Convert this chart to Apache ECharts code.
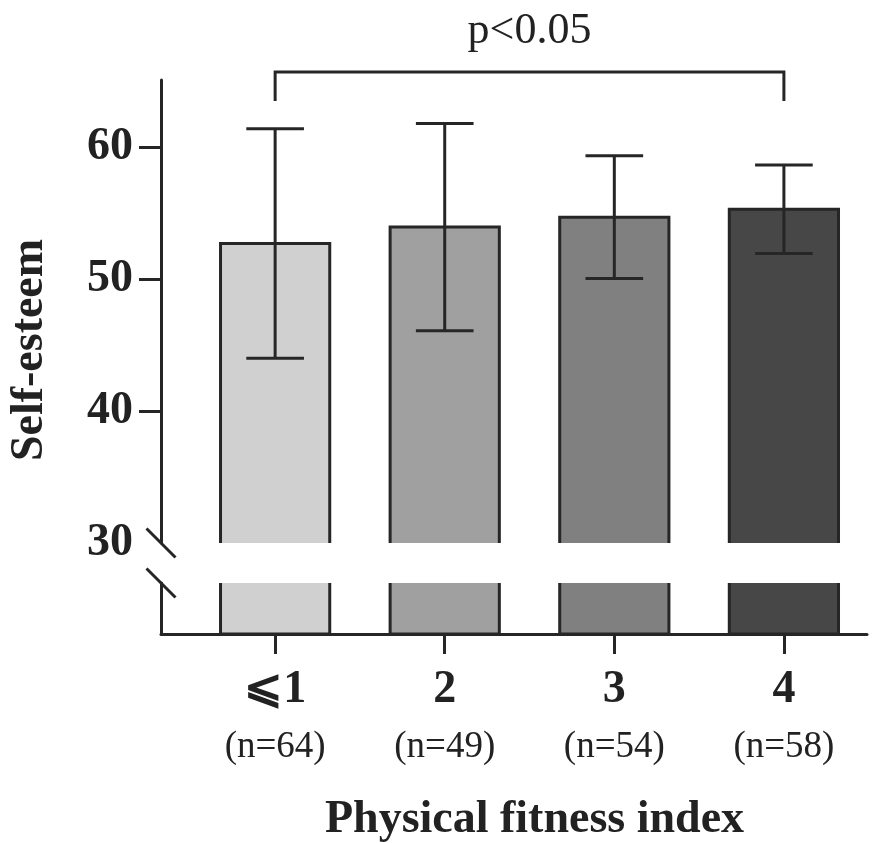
<!DOCTYPE html>
<html><head><meta charset="utf-8">
<script src="https://cdn.jsdelivr.net/npm/echarts@6/dist/echarts.min.js"></script>
<style>html,body{margin:0;padding:0;background:#fff}#c{width:885px;height:843px}</style>
</head><body><div id="c"></div>
<script>
// ---- data ----
const categories = ['⩽1', '2', '3', '4'];
const sampleSizes = [64, 49, 54, 58];
const means = [52.7, 53.95, 54.7, 55.3];
const sds = [8.7, 7.85, 4.65, 3.35];
const barColors = ['#d0d0d0', '#a0a0a0', '#808080', '#474747'];
const yTickLabels = [30, 40, 50, 60];
const yTickMarks = [40, 50, 60];
const sigLabel = 'p<0.05';
const sigPair = [0, 3];
const yAxisName = 'Self-esteem';
const xAxisName = 'Physical fitness index';

// ---- layout / style ----
const INK = '#262626';
const SERIF = '"Liberation Serif", "Times New Roman", serif';
const xMin = -0.673, xMax = 3.49;
const upperMin = 30, upperMax = 65.1;
const barHalf = 0.322, capHalf = 0.17;
const bracketTop = 65.7, bracketLeg = 63.5, sigTextY = 68.75;

const chart = echarts.init(document.getElementById('c'), null, {renderer: 'canvas'});

const idx = categories.map((c, i) => i);
const barData = idx.map(i => [i, means[i]]);
const errData = idx.map(i => [i, means[i], sds[i]]);

function barItem(params, api) {
  const i = api.value(0), v = api.value(1);
  const unit = api.size([1, 0])[0];
  const c = api.coord([i, v]);
  const b = api.coord([i, 0]);
  const hw = unit * barHalf;
  return {type: 'rect', shape: {x: c[0] - hw, y: c[1], width: 2 * hw, height: b[1] - c[1]},
    style: {fill: barColors[i], stroke: INK, lineWidth: 3}};
}
function errItem(params, api) {
  const i = api.value(0), m = api.value(1), s = api.value(2);
  const unit = api.size([1, 0])[0];
  const hi = api.coord([i, m + s]), lo = api.coord([i, m - s]);
  const cw = unit * capHalf;
  const st = {stroke: INK, lineWidth: 3, fill: null};
  return {type: 'group', children: [
    {type: 'line', shape: {x1: hi[0], y1: hi[1], x2: lo[0], y2: lo[1]}, style: st},
    {type: 'line', shape: {x1: hi[0] - cw, y1: hi[1], x2: hi[0] + cw, y2: hi[1]}, style: st},
    {type: 'line', shape: {x1: lo[0] - cw, y1: lo[1], x2: lo[0] + cw, y2: lo[1]}, style: st}
  ]};
}
function sigItem(params, api) {
  const a = api.value(0), b = api.value(1);
  const p1 = api.coord([a, bracketLeg]), p2 = api.coord([a, bracketTop]);
  const p3 = api.coord([b, bracketTop]), p4 = api.coord([b, bracketLeg]);
  const t = api.coord([(a + b) / 2, sigTextY]);
  return {type: 'group', children: [
    {type: 'polyline', shape: {points: [p1, p2, p3, p4]}, style: {stroke: INK, lineWidth: 3, fill: null}},
    {type: 'text', x: t[0], y: t[1], style: {text: sigLabel, fill: '#222', font: '44px ' + SERIF, align: 'center', verticalAlign: 'middle'}}
  ]};
}

const axisLineStyle = {color: INK, width: 3};
chart.setOption({
  animation: false,
  backgroundColor: '#fff',
  grid: [
    {left: 161, right: 18, top: 80, height: 463},
    {left: 161, right: 18, top: 583, height: 51}
  ],
  xAxis: [
    {gridIndex: 0, type: 'value', min: xMin, max: xMax, show: false},
    {gridIndex: 1, type: 'value', min: xMin, max: xMax,
      axisLine: {show: true, onZero: false, lineStyle: axisLineStyle},
      axisTick: {show: true, length: 20, customValues: idx, lineStyle: axisLineStyle},
      axisLabel: {customValues: idx, margin: 28,
        formatter: v => '{a|' + categories[Math.round(v)] + '}\n{b|(n=' + sampleSizes[Math.round(v)] + ')}',
        rich: {
          a: {fontFamily: SERIF, fontWeight: 'bold', fontSize: 46, lineHeight: 57, color: '#222'},
          b: {fontFamily: SERIF, fontSize: 37, lineHeight: 57, color: '#222'}
        }},
      splitLine: {show: false}}
  ],
  yAxis: [
    {gridIndex: 0, type: 'value', min: upperMin, max: upperMax,
      axisLine: {show: true, onZero: false, lineStyle: axisLineStyle},
      axisTick: {show: true, length: 22, customValues: yTickMarks, lineStyle: axisLineStyle},
      axisLabel: {customValues: yTickLabels, margin: 28, fontFamily: SERIF, fontWeight: 'bold', fontSize: 46, color: '#222'},
      splitLine: {show: false}},
    {gridIndex: 1, type: 'value', min: 0, max: 10,
      axisLine: {show: true, onZero: false, lineStyle: axisLineStyle},
      axisTick: {show: false}, axisLabel: {show: false}, splitLine: {show: false}}
  ],
  series: [
    {type: 'custom', name: 'barsUpper', xAxisIndex: 0, yAxisIndex: 0, clip: true, renderItem: barItem, data: barData, z: 2},
    {type: 'custom', name: 'barsLower', xAxisIndex: 1, yAxisIndex: 1, clip: true, renderItem: barItem, data: barData, z: 2},
    {type: 'custom', name: 'sd', xAxisIndex: 0, yAxisIndex: 0, clip: false, renderItem: errItem, data: errData, z: 3},
    {type: 'custom', name: 'sig', xAxisIndex: 0, yAxisIndex: 0, clip: false, renderItem: sigItem, data: [sigPair], z: 3}
  ]
});

// decorations: axis break slashes and axis names, positioned from the chart's own scales
const brkA = chart.convertToPixel({gridIndex: 0}, [xMin, upperMin]);
const brkB = chart.convertToPixel({gridIndex: 1}, [xMin, 10]);
const c0 = chart.convertToPixel({gridIndex: 1}, [sigPair[0], 0]);
const c3 = chart.convertToPixel({gridIndex: 1}, [sigPair[1], 0]);
const s = 14.5;
const slash = p => ({type: 'line', shape: {x1: p[0] - s, y1: p[1] - s, x2: p[0] + s, y2: p[1] + s},
  style: {stroke: INK, lineWidth: 3}, z: 10});
chart.setOption({
  graphic: [
    slash(brkA), slash(brkB),
    {type: 'text', x: 30, y: 350, rotation: Math.PI / 2,
      style: {text: yAxisName, font: 'bold 46px ' + SERIF, fill: '#222', align: 'center', verticalAlign: 'middle'}},
    {type: 'text', x: (c0[0] + c3[0]) / 2 + 5, y: 820,
      style: {text: xAxisName, font: 'bold 46px ' + SERIF, fill: '#222', align: 'center', verticalAlign: 'middle'}}
  ]
});
</script>
</body></html>
